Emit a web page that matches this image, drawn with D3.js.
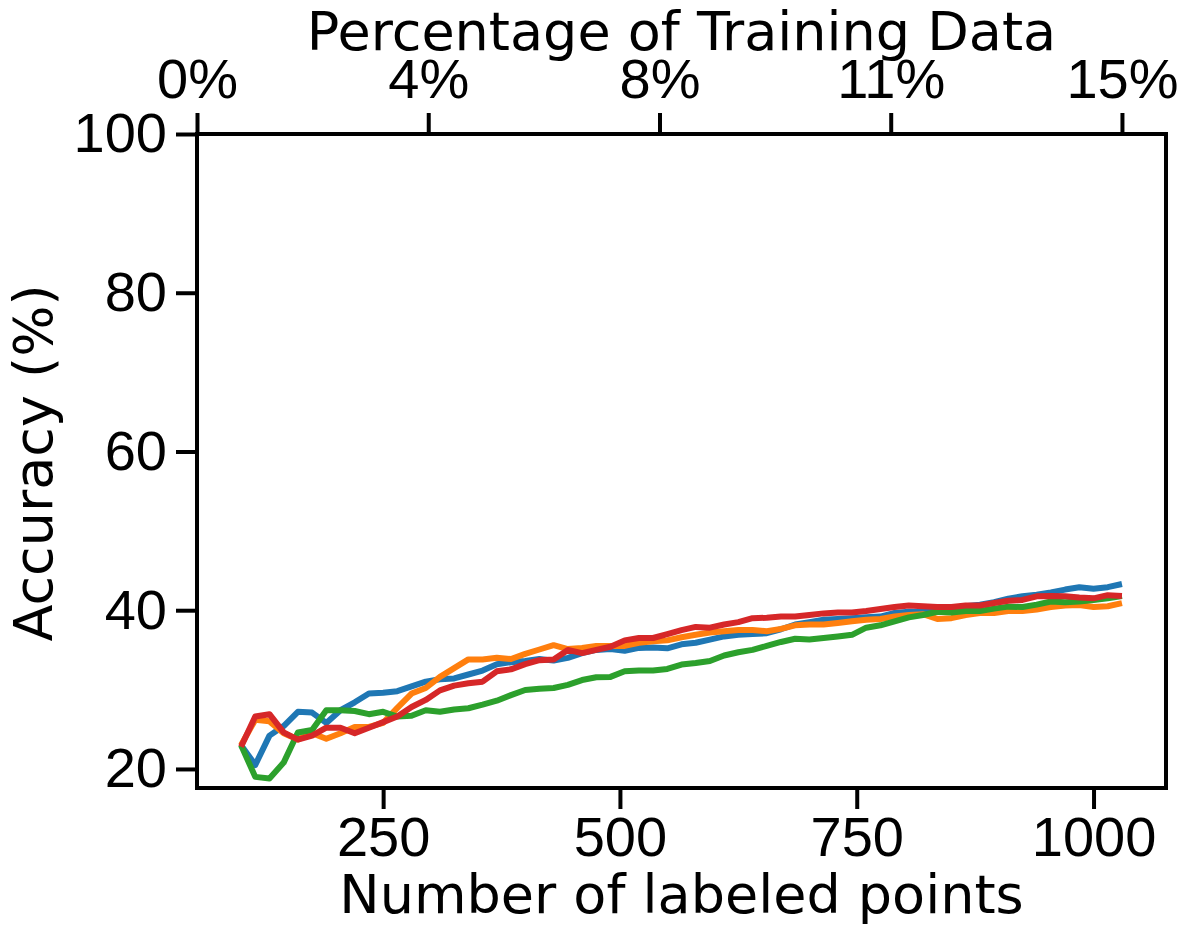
<!DOCTYPE html>
<html>
<head>
<meta charset="utf-8">
<script src="https://cdn.jsdelivr.net/npm/d3@7"></script>
<style>
  body { margin: 0; background: #fff; }
  svg { display: block; font-family: "DejaVu Sans", sans-serif; }
</style>
</head>
<body>
<svg id="chart" width="1193" height="934"></svg>
<script>
// Accuracy vs number of labeled points, four runs

const xStart = 100;
const xStep = 15;

const seriesNames = ["blue", "orange", "green", "red"];

const blueValues = [
  23.0, 20.5, 24.2, 25.4, 27.2, 27.1, 25.8, 27.4, 28.4, 29.5,
  29.6, 29.8, 30.4, 31.0, 31.3, 31.4, 31.9, 32.4, 33.2, 33.45,
  33.6, 33.85, 33.65, 34.0, 34.6, 35.0, 35.1, 34.9, 35.25, 35.3,
  35.2, 35.7, 35.9, 36.3, 36.7, 36.9, 37.0, 37.1, 37.6, 38.2,
  38.5, 38.8, 38.9, 39.0, 39.1, 39.2, 39.65, 39.8, 39.8, 39.9,
  40.1, 40.5, 40.7, 41.0, 41.45, 41.75, 41.95, 42.25, 42.6, 42.9,
  42.7, 42.9, 43.3
];

const orangeValues = [
  23.0, 26.2, 26.0, 24.5, 23.7, 24.5, 23.8, 24.5, 25.3, 25.3,
  25.8, 27.7, 29.5, 30.2, 31.6, 32.7, 33.8, 33.8, 34.0, 33.85,
  34.5, 35.05, 35.6, 35.1, 35.25, 35.5, 35.5, 35.5, 35.9, 36.1,
  36.2, 36.6, 36.9, 37.2, 37.35, 37.5, 37.5, 37.35, 37.65, 38.1,
  38.2, 38.2, 38.4, 38.6, 38.8, 38.9, 39.2, 39.4, 39.5, 38.9,
  39.0, 39.4, 39.65, 39.65, 39.9, 39.9, 40.1, 40.4, 40.6, 40.65,
  40.4, 40.5, 40.9
];

const greenValues = [
  23.0, 19.0, 18.8, 20.8, 24.6, 24.9, 27.4, 27.4, 27.3, 26.9,
  27.2, 26.6, 26.7, 27.4, 27.2, 27.5, 27.65, 28.1, 28.6, 29.3,
  29.95, 30.1, 30.2, 30.6, 31.2, 31.55, 31.6, 32.3, 32.4, 32.4,
  32.6, 33.15, 33.35, 33.6, 34.3, 34.7, 35.0, 35.5, 36.0, 36.4,
  36.3, 36.5, 36.7, 36.9, 37.8, 38.1, 38.6, 39.1, 39.4, 39.8,
  39.7, 39.9, 39.9, 40.2, 40.45, 40.4, 40.7, 41.1, 41.0, 41.1,
  41.3, 41.5, 41.8
];

const redValues = [
  22.8, 26.6, 26.9, 24.6, 23.7, 24.2, 25.2, 25.2, 24.5, 25.2,
  25.9, 26.6, 27.8, 28.7, 29.9, 30.5, 30.8, 31.0, 32.3, 32.55,
  33.2, 33.7, 33.8, 35.0, 34.6, 35.0, 35.4, 36.2, 36.5, 36.5,
  37.0, 37.5, 37.9, 37.8, 38.2, 38.5, 39.0, 39.05, 39.2, 39.2,
  39.4, 39.6, 39.7, 39.7, 39.9, 40.15, 40.4, 40.6, 40.5, 40.4,
  40.4, 40.6, 40.6, 40.9, 41.2, 41.3, 41.75, 41.8, 41.75, 41.6,
  41.5, 41.9, 41.8
];

const xTicks = [250, 500, 750, 1000];
const yTicks = [20, 40, 60, 80, 100];
const topTickLabels = ["0%", "4%", "8%", "11%", "15%"];

const colors = {
  blue: "#1f77b4",
  orange: "#ff7f0e",
  green: "#2ca02c",
  red: "#d62728"
};

const allSeries = {
  blue: blueValues,
  orange: orangeValues,
  green: greenValues,
  red: redValues
};

const plot = { left: 197, right: 1166, top: 134, bottom: 788 };
const tickFont = 56;
const labelFont = 54;

const svg = d3.select("#chart");

const xValues = blueValues.map((_, i) => xStart + i * xStep);
const xMin = d3.min(xValues), xMax = d3.max(xValues);
const xPad = (xMax - xMin) * 0.05;

const x = d3.scaleLinear().domain([xMin - xPad, xMax + xPad]).range([plot.left, plot.right]);
const y = d3.scaleLinear().domain([17.6, 100]).range([plot.bottom, plot.top]);

// top axis ticks sit evenly between the left limit and the last data point
const topTickValues = topTickLabels.map((_, i) =>
  x.domain()[0] + i * (xMax - x.domain()[0]) / (topTickLabels.length - 1));

const line = d3.line()
  .x((d, i) => x(xValues[i]))
  .y(d => y(d));

svg.selectAll("path.series")
  .data(seriesNames)
  .join("path")
  .attr("class", "series")
  .attr("fill", "none")
  .attr("stroke", d => colors[d])
  .attr("stroke-width", 6)
  .attr("stroke-linejoin", "round")
  .attr("d", d => line(allSeries[d]));

// spines
svg.append("rect")
  .attr("x", plot.left)
  .attr("y", plot.top)
  .attr("width", plot.right - plot.left)
  .attr("height", plot.bottom - plot.top)
  .attr("fill", "none")
  .attr("stroke", "#000")
  .attr("stroke-width", 4);

function styleAxis(g) {
  g.select(".domain").remove();
  g.selectAll(".tick line").attr("stroke", "#000").attr("stroke-width", 4);
  g.selectAll(".tick text")
    .attr("fill", "#000")
    .style("font-size", `${tickFont}px`);
}

svg.append("g")
  .attr("transform", `translate(0,${plot.bottom})`)
  .call(d3.axisBottom(x).tickValues(xTicks).tickFormat(d3.format("d"))
    .tickSize(21).tickPadding(7))
  .call(styleAxis);

svg.append("g")
  .attr("transform", `translate(${plot.left},0)`)
  .call(d3.axisLeft(y).tickValues(yTicks).tickSize(21).tickPadding(9))
  .call(styleAxis);

svg.append("g")
  .attr("transform", `translate(0,${plot.top})`)
  .call(d3.axisTop(x).tickValues(topTickValues)
    .tickFormat((d, i) => topTickLabels[i]).tickSize(21).tickPadding(15))
  .call(styleAxis);

svg.append("text")
  .attr("x", (plot.left + plot.right) / 2)
  .attr("y", 913)
  .attr("text-anchor", "middle")
  .style("font-size", `${labelFont}px`)
  .text("Number of labeled points");

svg.append("text")
  .attr("x", (plot.left + plot.right) / 2)
  .attr("y", 50)
  .attr("text-anchor", "middle")
  .style("font-size", `${labelFont}px`)
  .text("Percentage of Training Data");

svg.append("text")
  .attr("transform", `translate(52,463) rotate(-90)`)
  .attr("text-anchor", "middle")
  .style("font-size", `${labelFont}px`)
  .text("Accuracy (%)");
</script>
</body>
</html>
